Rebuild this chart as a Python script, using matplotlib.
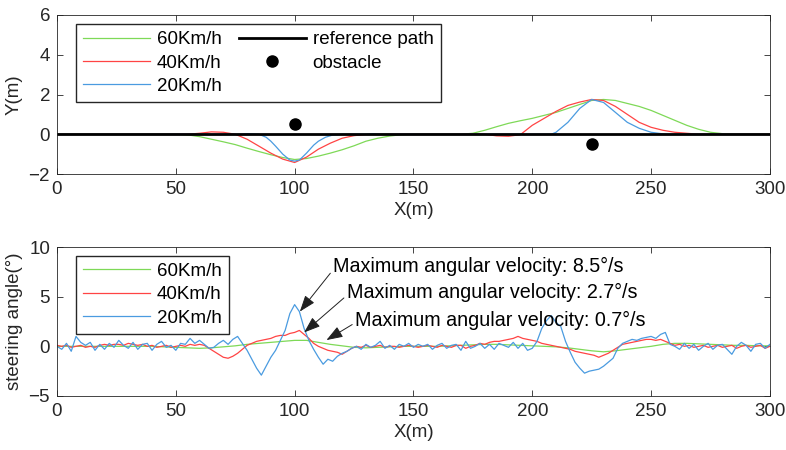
import numpy as np
import matplotlib
matplotlib.use("Agg")
import matplotlib.pyplot as plt

plt.rcParams['font.family'] = ['Liberation Sans', 'DejaVu Sans']
plt.rcParams['font.size'] = 13.5

# ---- lateral path (top panel) ----
ref_x = [0, 300]
ref_y = [0, 0]
obs_x = [100, 225]
obs_y = [0.5, -0.5]

p60_x = [0, 50, 55, 60, 65, 70, 75, 80, 85, 90, 95, 100, 105, 110, 115, 120, 125, 130, 135, 140, 145, 150,
         170, 175, 180, 185, 190, 195, 200, 205, 210, 215, 220, 225, 230, 235, 240, 245, 250, 255, 260, 265,
         270, 275, 280, 285, 300]
p60_y = [0, 0, -0.03, -0.12, -0.25, -0.38, -0.52, -0.7, -0.87, -1.03, -1.17, -1.27, -1.22, -1.1, -0.95, -0.78,
         -0.58, -0.35, -0.2, -0.09, -0.02, 0,
         0, 0.05, 0.2, 0.38, 0.55, 0.68, 0.8, 0.95, 1.1, 1.3, 1.5, 1.7, 1.75, 1.7, 1.55, 1.4, 1.2, 0.95, 0.7,
         0.45, 0.25, 0.1, 0.03, 0, 0]

p40_x = [0, 55, 60, 65, 70, 75, 80, 85, 90, 95, 100, 105, 110, 115, 120, 125, 130, 135,
         180, 185, 190, 195, 200, 205, 210, 215, 220, 225, 230, 235, 240, 245, 250, 255, 260, 265, 270, 300]
p40_y = [0, 0, 0.05, 0.12, 0.1, 0.0, -0.25, -0.6, -0.95, -1.25, -1.42, -1.15, -0.75, -0.45, -0.2, -0.07, -0.01, 0,
         0, -0.08, -0.1, -0.02, 0.45, 0.8, 1.15, 1.45, 1.62, 1.75, 1.7, 1.4, 1.0, 0.6, 0.35, 0.2, 0.1, 0.05, 0, 0]

p20_x = [0, 78, 80, 83, 85, 88, 90, 92, 95, 98, 100, 102, 105, 108, 110, 113, 116, 120, 130, 133, 136,
         205, 208, 210, 215, 220, 225, 230, 235, 240, 245, 250, 255, 260, 300]
p20_y = [0, 0, 0.03, 0.01, 0.0, -0.15, -0.35, -0.6, -1.0, -1.3, -1.35, -1.3, -0.95, -0.55, -0.35, -0.15, -0.04,
         0, 0, 0.03, 0,
         0, 0, 0.1, 0.6, 1.3, 1.75, 1.6, 1.1, 0.6, 0.3, 0.1, 0.02, 0, 0]

# ---- steering angle (bottom panel), sampled every 2 m ----
sa_x = np.arange(0, 302, 2)
sa20 = [0.0, -0.3, 0.3, -0.5, 1.0, 0.4, 0.1, 0.4, -0.4, 0.2, -0.3, 0.3, -0.1, 0.6, 0.1, -0.2, 0.4, -0.3, 0.2, 0.3,
        -0.4, 0.2, 0.5, -0.1, 0.1, -0.4, 0.3, 0.2, 0.8, 0.3, 0.6, 0.2, -0.2, -0.1, 0.3, 0.6, 0.2, 0.7, 1.0, 0.3,
        -0.4, -1.3, -2.2, -2.9, -2.0, -1.1, -0.4, 0.6, 1.6, 3.3, 4.2, 3.5, 1.8, 0.6, -0.3, -1.1, -1.8, -1.3, -1.5, -1.0,
        -0.7, -0.5, -0.2, 0.0, -0.3, 0.2, -0.1, 0.1, 0.5, -0.2, 0.1, -0.3, 0.2, 0.0, 0.3, -0.1, 0.2, 0.0, 0.2, -0.3,
        0.1, 0.3, -0.2, 0.1, 0.2, -0.4, 0.5, -0.2, 0.0, 0.3, -0.2, 0.2, -0.3, 0.3, 0.1, -0.1, 0.4, -0.2, 0.3, -0.4,
        -0.2, 0.5, 1.8, 2.6, 3.1, 2.4, 2.0, 0.5, -0.6, -1.6, -2.2, -2.7, -2.5, -2.4, -2.3, -2.0, -1.6, -1.2, -0.2, 0.3,
        0.5, 0.7, 0.6, 0.8, 0.9, 1.0, 0.8, 1.2, 1.4, 0.2, 0.0, -0.3, 0.3, -0.2, 0.2, -0.4, 0.0, 0.3, -0.3, 0.1,
        0.2, -0.3, -0.8, 0.0, 0.4, 0.1, -0.5, 0.2, 0.3, -0.2, 0.2]
sa40 = [0.1, 0.0, 0.1, -0.1, 0.0, 0.1, -0.1, 0.0, -0.1, 0.1, 0.2, 0.1, 0.2, 0.2, 0.1, 0.3, 0.2, 0.1, 0.2, 0.0,
        0.1, -0.1, 0.0, 0.1, -0.1, 0.0, 0.1, 0.0, 0.2, 0.1, 0.2, 0.1, -0.2, -0.5, -0.8, -1.1, -1.2, -1.0, -0.7, -0.3,
        0.1, 0.3, 0.5, 0.6, 0.7, 0.8, 1.0, 1.1, 1.1, 1.3, 1.4, 1.6, 1.2, 0.8, 0.3, 0.0, -0.2, -0.4, -0.5, -0.6,
        -0.8, -0.5, -0.2, 0.0, -0.1, 0.1, -0.1, 0.0, 0.1, -0.1, 0.0, 0.0, -0.1, 0.0, 0.1, 0.0, -0.1, 0.0, 0.1, 0.0,
        -0.1, 0.1, 0.0, -0.1, 0.1, 0.1, -0.2, 0.0, 0.1, 0.3, 0.2, 0.4, 0.5, 0.5, 0.6, 0.7, 0.8, 1.0, 0.8, 0.7,
        0.6, 0.5, 0.3, 0.2, 0.1, 0.0, -0.1, -0.2, -0.3, -0.5, -0.6, -0.7, -0.8, -0.9, -1.1, -0.9, -0.7, -0.4, -0.1, 0.2,
        0.3, 0.4, 0.5, 0.6, 0.7, 0.7, 0.6, 0.7, 0.5, 0.3, 0.1, 0.2, 0.0, 0.1, -0.1, 0.0, 0.1, -0.1, 0.0, 0.1,
        -0.1, 0.0, 0.1, -0.2, 0.0, 0.1, -0.1, 0.0, 0.1, -0.2, 0.0]
sa60_x = np.arange(0, 305, 5)
sa60 = [0, 0, 0, 0, 0, 0, 0, 0, 0, -0.05, -0.1, -0.15, -0.2, -0.15, -0.05, 0.05, 0.2, 0.3, 0.4, 0.5,
        0.6, 0.6, 0.4, 0.2, 0.05, -0.1, -0.15, -0.1, -0.05, 0, 0, 0, 0, 0.05, 0.1, 0.15, 0.2, 0.2, 0.15, 0.1,
        0.05, 0, -0.05, -0.15, -0.3, -0.45, -0.55, -0.45, -0.3, -0.15, 0, 0.2, 0.3, 0.3, 0.25, 0.2, 0.15, 0.1,
        0.1, 0.05, 0.05]

max_rates = [8.5, 2.7, 0.7]

c60 = '#7ed957'
c40 = '#ff4444'
c20 = '#4a9be0'
axcol = '#262626'

fig = plt.figure(figsize=(7.86, 4.5), dpi=100)
ax1 = fig.add_axes([0.0725, 0.6133, 0.907, 0.3534])
ax2 = fig.add_axes([0.0725, 0.12, 0.907, 0.3311])

leg_kw = dict(loc='upper left', handlelength=3.57, fancybox=False, edgecolor='#262626',
              framealpha=1, borderpad=0.38, borderaxespad=0, labelspacing=0.33,
              handletextpad=0.37)

ax1.plot(p60_x, p60_y, color=c60, lw=0.9, label='60Km/h')
ax1.plot(p40_x, p40_y, color=c40, lw=0.9, label='40Km/h')
ax1.plot(p20_x, p20_y, color=c20, lw=0.9, label='20Km/h')
ax1.plot(ref_x, ref_y, color='k', lw=2, label='reference path')
ax1.plot(obs_x, obs_y, 'o', color='k', ms=8, label='obstacle')
ax1.set_xlim(0, 300)
ax1.set_ylim(-2, 6)
ax1.set_yticks([-2, 0, 2, 4, 6])
ax1.set_xlabel('X(m)', labelpad=3)
ax1.set_ylabel('Y(m)', labelpad=4)
ax1.legend(ncol=2, bbox_to_anchor=(0.0266, 0.943), columnspacing=0.9, **leg_kw)

ax2.plot(sa60_x, sa60, color=c60, lw=0.9, label='60Km/h')
ax2.plot(sa_x, sa40, color=c40, lw=0.9, label='40Km/h')
ax2.plot(sa_x, sa20, color=c20, lw=0.9, label='20Km/h')
ax2.set_xlim(0, 300)
ax2.set_ylim(-5, 10)
ax2.set_yticks([-5, 0, 5, 10])
ax2.set_xlabel('X(m)', labelpad=3)
ax2.set_ylabel('steering angle(°)', labelpad=4)
ax2.legend(bbox_to_anchor=(0.0266, 0.9416), **leg_kw)

# annotations for peak steering rates
notes = [((102.2, 3.5), (116.2, 8.0)),
         ((104.0, 1.4), (121.9, 5.4)),
         ((113.4, 0.63), (125.4, 2.65))]
for rate, (tip, txt) in zip(max_rates, notes):
    ax2.annotate('Maximum angular velocity: %.1f°/s' % rate, xy=tip, xytext=txt,
                 va='center', ha='left', fontsize=14.2, color='k',
                 arrowprops=dict(arrowstyle='-|>,head_length=0.5,head_width=0.18', color='#202020', lw=0.7,
                                 mutation_scale=20, shrinkA=0, shrinkB=0,
                                 relpos=(0, 0.35)))

for ax in (ax1, ax2):
    ax.set_xticks([0, 50, 100, 150, 200, 250, 300])
    ax.tick_params(direction='in', top=True, right=True, colors=axcol, pad=5,
                   labelcolor=axcol, labelsize=13.5, length=4, width=0.6)
    for s in ax.spines.values():
        s.set_color('#262626')
        s.set_linewidth(0.6)
    ax.xaxis.label.set_color(axcol)
    ax.yaxis.label.set_color(axcol)

fig.savefig('out.png', dpi=100)
